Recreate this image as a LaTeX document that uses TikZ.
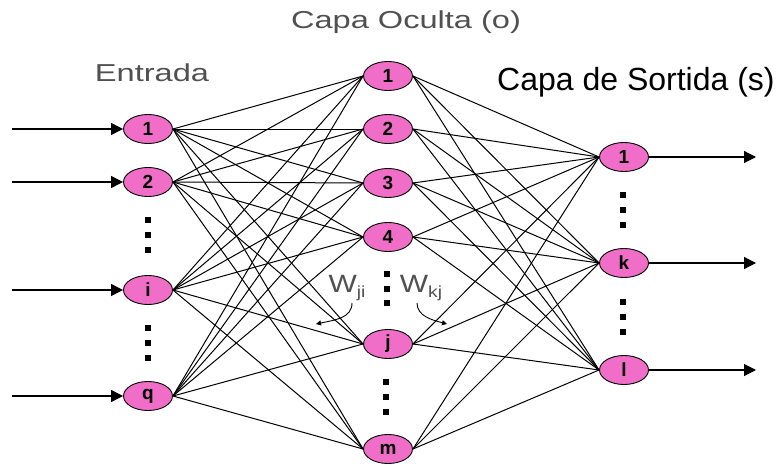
\documentclass[tikz,border=0pt]{standalone}
\usepackage{fontspec}
\setmainfont{Liberation Sans}
\usetikzlibrary{shapes.geometric,arrows.meta}
\definecolor{neuronpink}{HTML}{F06EC8}
\definecolor{labelgray}{HTML}{505050}
\begin{document}
\begin{tikzpicture}[x=1pt,y=-1pt,
  neuron/.style={ellipse,draw=black,line width=0.9pt,fill=neuronpink,minimum width=49pt,minimum height=29pt,inner sep=0pt,font=\fontsize{19}{19}\selectfont\bfseries},
  conn/.style={line width=1pt,black},
  ioarrow/.style={line width=1.2pt,-{Triangle[length=12pt,width=12pt]}},
  dotmark/.style={rectangle,fill=black,minimum width=6.5pt,minimum height=5.5pt,inner sep=0pt},
  graylabel/.style={text=labelgray,xscale=1.33,inner sep=0pt,font=\fontsize{24.5}{28}\selectfont},
  wlabel/.style={text=labelgray,xscale=1.2,inner sep=0pt,font=\fontsize{25}{28}\selectfont},
  warrow/.style={line width=0.9pt,-{Triangle[length=5pt,width=5pt]}}
]
\useasboundingbox (0,0) rectangle (777,466);
% input layer
\node[neuron] (i1) at (148,129) {1};
\node[neuron] (i2) at (148,182) {2};
\node[neuron] (ii) at (148,290) {i};
\node[neuron] (iq) at (148,396) {q};
% hidden layer
\node[neuron] (h1) at (388,76) {1};
\node[neuron] (h2) at (388,129) {2};
\node[neuron] (h3) at (388,183) {3};
\node[neuron] (h4) at (388,237) {4};
\node[neuron] (hj) at (388,344) {j};
\node[neuron] (hm) at (388,449) {m};
% output layer
\node[neuron] (o1) at (624,157) {1};
\node[neuron] (ok) at (624,263) {k};
\node[neuron] (ol) at (624,370) {l};
% connections input -> hidden
\foreach \a in {i1,i2,ii,iq}{
  \foreach \b in {h1,h2,h3,h4,hj,hm}{
    \draw[conn] (\a.east) -- (\b.west);
  }
}
% connections hidden -> output
\foreach \a in {h1,h2,h3,h4,hj,hm}{
  \foreach \b in {o1,ok,ol}{
    \draw[conn] (\a.east) -- (\b.west);
  }
}
% input arrows
\coordinate (s1) at (12,129);
\coordinate (s2) at (12,182);
\coordinate (si) at (12,290);
\coordinate (sq) at (12,396);
\draw[ioarrow] (s1) -- (i1.west);
\draw[ioarrow] (s2) -- (i2.west);
\draw[ioarrow] (si) -- (ii.west);
\draw[ioarrow] (sq) -- (iq.west);
% output arrows
\coordinate (e1) at (756,157);
\coordinate (ek) at (756,263);
\coordinate (el) at (756,370);
\draw[ioarrow] (o1.east) -- (e1);
\draw[ioarrow] (ok.east) -- (ek);
\draw[ioarrow] (ol.east) -- (el);
% dots
\foreach \y [count=\n] in {220,235,250}{\node[dotmark] (di\n) at (148,\y) {};}
\foreach \y [count=\n] in {328,343,358}{\node[dotmark] (dq\n) at (148,\y) {};}
\foreach \y [count=\n] in {274,289,303}{\node[dotmark] (dh\n) at (387,\y) {};}
\foreach \y [count=\n] in {382,397,412}{\node[dotmark] (dm\n) at (386,\y) {};}
\foreach \y [count=\n] in {195,210,225}{\node[dotmark] (dk\n) at (623,\y) {};}
\foreach \y [count=\n] in {302,317,332}{\node[dotmark] (dl\n) at (623,\y) {};}
% labels
\node[graylabel] (lent) at (152,73) {Entrada};
\node[graylabel] (lhid) at (406,22) {Capa Oculta (o)};
\node[inner sep=0pt,font=\fontsize{32}{36}\selectfont,anchor=west] (lout) at (497,82) {Capa de Sortida (s)};
% weights
\node[wlabel] (wji) at (347,288) {W\raisebox{-5pt}{\fontsize{16}{16}\selectfont ji}};
\node[wlabel] (wkj) at (421,288) {W\raisebox{-5pt}{\fontsize{16}{16}\selectfont kj}};
\coordinate (wa1) at (352,303);
\coordinate (wa2) at (316,324);
\coordinate (wb1) at (417,303);
\coordinate (wb2) at (447,324);
\draw[warrow] (wa1) .. controls (352,318) and (335,320) .. (wa2);
\draw[warrow] (wb1) .. controls (417,316) and (432,320) .. (wb2);
\end{tikzpicture}
\end{document}
